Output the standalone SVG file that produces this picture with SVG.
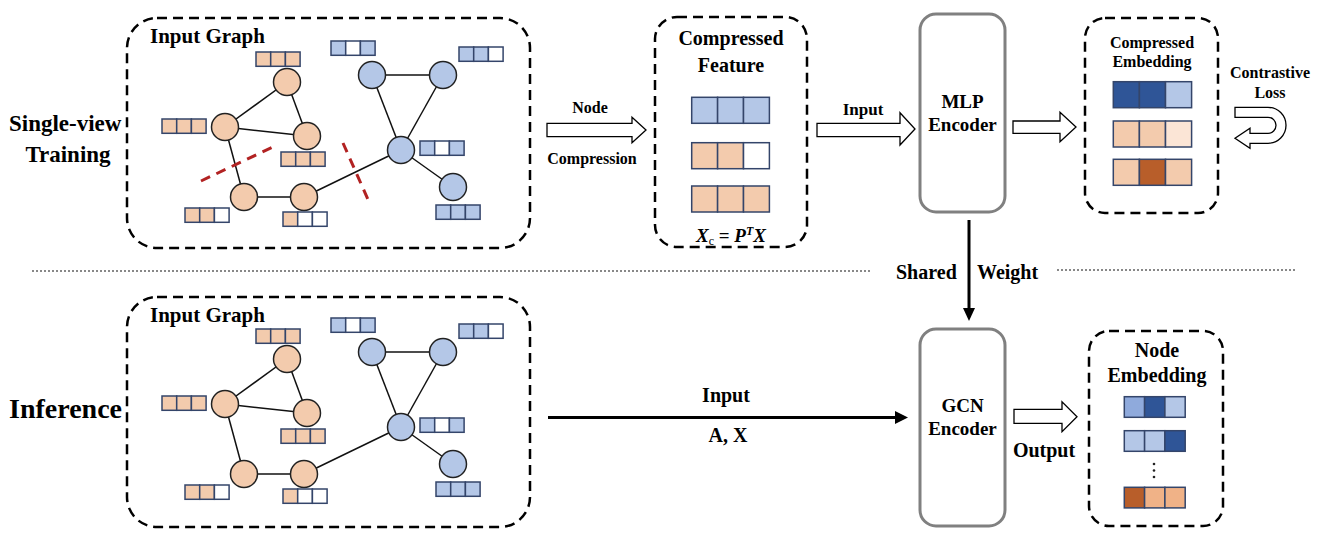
<svg xmlns="http://www.w3.org/2000/svg" width="1328" height="546" viewBox="0 0 1328 546">
<defs>
<style>
text{font-family:"Liberation Serif","Times New Roman",serif;font-weight:bold;fill:#000}
.dbox{fill:#fff;stroke:#000;stroke-width:2.5;stroke-dasharray:10 6}
.enc{fill:#fff;stroke:#808080;stroke-width:3}
.edge{stroke:#111;stroke-width:1.5;fill:none}
.on{fill:#f3cbad;stroke:#222;stroke-width:1.5}
.bn{fill:#b4c7e7;stroke:#222;stroke-width:1.5}
.c{stroke:#34456a;stroke-width:1.5}
.o{fill:#f3cbad}.b{fill:#b4c7e7}.w{fill:#fff}.db{fill:#2f5597}.mb{fill:#8faadc}.po{fill:#fbe5d6}.do{fill:#b85e2a}.lo{fill:#f0b287}
.cut{stroke:#b22222;stroke-width:3;stroke-dasharray:10 7}
.blk{fill:#fff;stroke:#000;stroke-width:1.3}
.sep{stroke:#888;stroke-width:2;stroke-dasharray:2 2}
</style>
</defs>
<rect width="1328" height="546" fill="#fff"/>

<!-- left labels -->
<text x="9" y="131" font-size="23">Single-view</text>
<text x="68" y="162" font-size="23" text-anchor="middle">Training</text>
<text x="9" y="418" font-size="28">Inference</text>

<!-- separators -->
<line class="sep" x1="32" y1="271" x2="871" y2="271"/>
<line class="sep" x1="1057" y1="270" x2="1295" y2="270"/>

<!-- Top input graph -->
<g id="input-graph-top">
<rect class="dbox" x="127" y="18" width="403" height="230" rx="30"/>
<text x="150" y="43" font-size="21">Input Graph</text>
<g class="edges">
<line class="edge" x1="287" y1="82" x2="225" y2="127"/>
<line class="edge" x1="287" y1="82" x2="307" y2="136"/>
<line class="edge" x1="225" y1="127" x2="307" y2="136"/>
<line class="edge" x1="225" y1="127" x2="244" y2="197"/>
<line class="edge" x1="244" y1="197" x2="304" y2="197"/>
<line class="edge" x1="304" y1="197" x2="401" y2="150"/>
<line class="edge" x1="372" y1="75" x2="443" y2="75"/>
<line class="edge" x1="372" y1="75" x2="401" y2="150"/>
<line class="edge" x1="443" y1="75" x2="401" y2="150"/>
<line class="edge" x1="401" y1="150" x2="453" y2="187"/>
</g>
<g id="t-nA"><circle class="on" cx="287" cy="82" r="13.5"/><g transform="translate(256,52)"><rect class="c o" width="14.7" height="14.3"/><rect class="c o" x="14.7" width="14.7" height="14.3"/><rect class="c o" x="29.4" width="14.7" height="14.3"/></g></g>
<g id="t-nB"><circle class="on" cx="225" cy="127" r="13.5"/><g transform="translate(162,119)"><rect class="c o" width="14.7" height="14.3"/><rect class="c o" x="14.7" width="14.7" height="14.3"/><rect class="c o" x="29.4" width="14.7" height="14.3"/></g></g>
<g id="t-nC"><circle class="on" cx="307" cy="136" r="13.5"/><g transform="translate(281,152)"><rect class="c o" width="14.7" height="14.3"/><rect class="c o" x="14.7" width="14.7" height="14.3"/><rect class="c o" x="29.4" width="14.7" height="14.3"/></g></g>
<g id="t-nD"><circle class="on" cx="244" cy="197" r="13.5"/><g transform="translate(185,208)"><rect class="c o" width="14.7" height="14.3"/><rect class="c o" x="14.7" width="14.7" height="14.3"/><rect class="c w" x="29.4" width="14.7" height="14.3"/></g></g>
<g id="t-nE"><circle class="on" cx="304" cy="197" r="13.5"/><g transform="translate(283,212)"><rect class="c o" width="14.7" height="14.3"/><rect class="c w" x="14.7" width="14.7" height="14.3"/><rect class="c w" x="29.4" width="14.7" height="14.3"/></g></g>
<g id="t-nF"><circle class="bn" cx="372" cy="75" r="13.5"/><g transform="translate(331,41)"><rect class="c b" width="14.7" height="14.3"/><rect class="c w" x="14.7" width="14.7" height="14.3"/><rect class="c b" x="29.4" width="14.7" height="14.3"/></g></g>
<g id="t-nG"><circle class="bn" cx="443" cy="75" r="13.5"/><g transform="translate(459,47)"><rect class="c b" width="14.7" height="14.3"/><rect class="c b" x="14.7" width="14.7" height="14.3"/><rect class="c w" x="29.4" width="14.7" height="14.3"/></g></g>
<g id="t-nH"><circle class="bn" cx="401" cy="150" r="13.5"/><g transform="translate(420,141)"><rect class="c b" width="14.7" height="14.3"/><rect class="c w" x="14.7" width="14.7" height="14.3"/><rect class="c b" x="29.4" width="14.7" height="14.3"/></g></g>
<g id="t-nI"><circle class="bn" cx="453" cy="187" r="13.5"/><g transform="translate(436,205)"><rect class="c b" width="14.7" height="14.3"/><rect class="c b" x="14.7" width="14.7" height="14.3"/><rect class="c b" x="29.4" width="14.7" height="14.3"/></g></g>
<line class="cut" x1="201" y1="181" x2="273" y2="147"/>
<line class="cut" x1="343" y1="143" x2="370" y2="204"/>
</g>

<!-- Bottom input graph -->
<g id="input-graph-bottom">
<rect class="dbox" x="127" y="297" width="403" height="230" rx="30"/>
<text x="150" y="322" font-size="21">Input Graph</text>
<g transform="translate(0,277)">
<g class="edges">
<line class="edge" x1="287" y1="82" x2="225" y2="127"/>
<line class="edge" x1="287" y1="82" x2="307" y2="136"/>
<line class="edge" x1="225" y1="127" x2="307" y2="136"/>
<line class="edge" x1="225" y1="127" x2="244" y2="197"/>
<line class="edge" x1="244" y1="197" x2="304" y2="197"/>
<line class="edge" x1="304" y1="197" x2="401" y2="150"/>
<line class="edge" x1="372" y1="75" x2="443" y2="75"/>
<line class="edge" x1="372" y1="75" x2="401" y2="150"/>
<line class="edge" x1="443" y1="75" x2="401" y2="150"/>
<line class="edge" x1="401" y1="150" x2="453" y2="187"/>
</g>
<g id="b-nA"><circle class="on" cx="287" cy="82" r="13.5"/><g transform="translate(256,52)"><rect class="c o" width="14.7" height="14.3"/><rect class="c o" x="14.7" width="14.7" height="14.3"/><rect class="c o" x="29.4" width="14.7" height="14.3"/></g></g>
<g id="b-nB"><circle class="on" cx="225" cy="127" r="13.5"/><g transform="translate(162,119)"><rect class="c o" width="14.7" height="14.3"/><rect class="c o" x="14.7" width="14.7" height="14.3"/><rect class="c o" x="29.4" width="14.7" height="14.3"/></g></g>
<g id="b-nC"><circle class="on" cx="307" cy="136" r="13.5"/><g transform="translate(281,152)"><rect class="c o" width="14.7" height="14.3"/><rect class="c o" x="14.7" width="14.7" height="14.3"/><rect class="c o" x="29.4" width="14.7" height="14.3"/></g></g>
<g id="b-nD"><circle class="on" cx="244" cy="197" r="13.5"/><g transform="translate(185,208)"><rect class="c o" width="14.7" height="14.3"/><rect class="c o" x="14.7" width="14.7" height="14.3"/><rect class="c w" x="29.4" width="14.7" height="14.3"/></g></g>
<g id="b-nE"><circle class="on" cx="304" cy="197" r="13.5"/><g transform="translate(283,212)"><rect class="c o" width="14.7" height="14.3"/><rect class="c w" x="14.7" width="14.7" height="14.3"/><rect class="c w" x="29.4" width="14.7" height="14.3"/></g></g>
<g id="b-nF"><circle class="bn" cx="372" cy="75" r="13.5"/><g transform="translate(331,41)"><rect class="c b" width="14.7" height="14.3"/><rect class="c w" x="14.7" width="14.7" height="14.3"/><rect class="c b" x="29.4" width="14.7" height="14.3"/></g></g>
<g id="b-nG"><circle class="bn" cx="443" cy="75" r="13.5"/><g transform="translate(459,47)"><rect class="c b" width="14.7" height="14.3"/><rect class="c b" x="14.7" width="14.7" height="14.3"/><rect class="c w" x="29.4" width="14.7" height="14.3"/></g></g>
<g id="b-nH"><circle class="bn" cx="401" cy="150" r="13.5"/><g transform="translate(420,141)"><rect class="c b" width="14.7" height="14.3"/><rect class="c w" x="14.7" width="14.7" height="14.3"/><rect class="c b" x="29.4" width="14.7" height="14.3"/></g></g>
<g id="b-nI"><circle class="bn" cx="453" cy="187" r="13.5"/><g transform="translate(436,205)"><rect class="c b" width="14.7" height="14.3"/><rect class="c b" x="14.7" width="14.7" height="14.3"/><rect class="c b" x="29.4" width="14.7" height="14.3"/></g></g>
</g>
</g>

<!-- Compressed Feature -->
<g id="compressed-feature">
<rect class="dbox" x="655" y="17" width="152" height="230" rx="22"/>
<text x="731" y="45" font-size="20" text-anchor="middle">Compressed</text>
<text x="731" y="72" font-size="20" text-anchor="middle">Feature</text>
<g transform="translate(691.7,97.3)"><rect class="c b" width="25.9" height="26"/><rect class="c b" x="25.9" width="25.9" height="26"/><rect class="c b" x="51.8" width="25.9" height="26"/></g>
<g transform="translate(691.7,142.7)"><rect class="c o" width="25.9" height="26"/><rect class="c o" x="25.9" width="25.9" height="26"/><rect class="c w" x="51.8" width="25.9" height="26"/></g>
<g transform="translate(691.7,186)"><rect class="c o" width="25.9" height="26"/><rect class="c o" x="25.9" width="25.9" height="26"/><rect class="c o" x="51.8" width="25.9" height="26"/></g>
<text x="731" y="242" font-size="19" text-anchor="middle"><tspan font-style="italic">X</tspan><tspan font-size="12" font-weight="normal" dy="3">c</tspan><tspan dy="-3"> = </tspan><tspan font-style="italic">P</tspan><tspan font-style="italic" font-size="12" dy="-7">T</tspan><tspan font-style="italic" dy="7">X</tspan></text>
</g>

<!-- MLP Encoder -->
<g id="mlp-encoder">
<rect class="enc" x="920" y="14" width="85" height="198" rx="16"/>
<text x="962.5" y="108" font-size="19" text-anchor="middle">MLP</text>
<text x="962.5" y="131" font-size="19" text-anchor="middle">Encoder</text>
</g>

<!-- Compressed Embedding -->
<g id="compressed-embedding">
<rect class="dbox" x="1085" y="18" width="133" height="195" rx="20"/>
<text x="1152" y="48" font-size="16" text-anchor="middle">Compressed</text>
<text x="1152" y="67" font-size="16" text-anchor="middle">Embedding</text>
<g transform="translate(1113.3,81.7)"><rect class="c db" width="26.1" height="26"/><rect class="c db" x="26.1" width="26.1" height="26"/><rect class="c b" x="52.2" width="26.1" height="26"/></g>
<g transform="translate(1113.3,121)"><rect class="c o" width="26.1" height="26"/><rect class="c o" x="26.1" width="26.1" height="26"/><rect class="c po" x="52.2" width="26.1" height="26"/></g>
<g transform="translate(1113.3,159.3)"><rect class="c o" width="26.1" height="26"/><rect class="c do" x="26.1" width="26.1" height="26"/><rect class="c o" x="52.2" width="26.1" height="26"/></g>
</g>

<!-- Contrastive Loss -->
<g id="contrastive-loss">
<text x="1270" y="78" font-size="16" text-anchor="middle">Contrastive</text>
<text x="1270" y="98" font-size="16" text-anchor="middle">Loss</text>
<path class="blk" d="M1235,107.3 H1268 A18,18 0 0 1 1268,143.3 H1250 V148.3 L1235,138.3 L1250,128.3 V133.3 H1268 A8,8 0 0 0 1268,117.3 H1235 Z"/>
</g>

<!-- GCN Encoder -->
<g id="gcn-encoder">
<rect class="enc" x="920" y="329" width="85" height="197" rx="16"/>
<text x="962.5" y="412" font-size="19" text-anchor="middle">GCN</text>
<text x="962.5" y="435" font-size="19" text-anchor="middle">Encoder</text>
</g>

<!-- Node Embedding -->
<g id="node-embedding">
<rect class="dbox" x="1089" y="331" width="134" height="195" rx="20"/>
<text x="1157" y="357" font-size="20" text-anchor="middle">Node</text>
<text x="1157" y="382" font-size="20" text-anchor="middle">Embedding</text>
<g transform="translate(1124.3,396.7)"><rect class="c mb" width="20.3" height="20.6"/><rect class="c db" x="20.3" width="20.3" height="20.6"/><rect class="c b" x="40.6" width="20.3" height="20.6"/></g>
<g transform="translate(1124.3,430.7)"><rect class="c b" width="20.3" height="20.6"/><rect class="c b" x="20.3" width="20.3" height="20.6"/><rect class="c db" x="40.6" width="20.3" height="20.6"/></g>
<circle cx="1154" cy="464" r="1.3" fill="#222"/><circle cx="1154" cy="470.5" r="1.3" fill="#222"/><circle cx="1154" cy="477" r="1.3" fill="#222"/>
<g transform="translate(1124.3,487.3)"><rect class="c do" width="20.3" height="20.6"/><rect class="c lo" x="20.3" width="20.3" height="20.6"/><rect class="c lo" x="40.6" width="20.3" height="20.6"/></g>
</g>

<!-- connectors -->
<g id="connectors">
<path class="blk" d="M547,123.3 H632 V117.3 L646,130 L632,142.7 V136.7 H547 Z"/>
<text x="590" y="113" font-size="16" text-anchor="middle">Node</text>
<text x="592" y="164" font-size="16" text-anchor="middle">Compression</text>
<path class="blk" d="M817,123.3 H900 V112.7 L915,129 L900,145 V136.7 H817 Z"/>
<text x="863" y="115" font-size="17" text-anchor="middle">Input</text>
<path class="blk" d="M1013,121 H1060 V112.3 L1076,127 L1060,141.7 V133.3 H1013 Z"/>
<line x1="969" y1="220" x2="969" y2="309" stroke="#000" stroke-width="3"/>
<path d="M963,308 L975,308 L969,321 Z" fill="#000"/>
<text x="896" y="279" font-size="20">Shared</text>
<text x="977" y="279" font-size="20">Weight</text>
<line x1="548" y1="417.5" x2="896" y2="417.5" stroke="#000" stroke-width="3"/>
<path d="M895,411 L908,417.5 L895,424 Z" fill="#000"/>
<text x="726" y="402" font-size="20" text-anchor="middle">Input</text>
<text x="728" y="442" font-size="20" text-anchor="middle">A, X</text>
<path class="blk" d="M1014,409.3 H1062 V401.7 L1077,416.7 L1062,431.7 V423.3 H1014 Z"/>
<text x="1044" y="457" font-size="20" text-anchor="middle">Output</text>
</g>
</svg>
